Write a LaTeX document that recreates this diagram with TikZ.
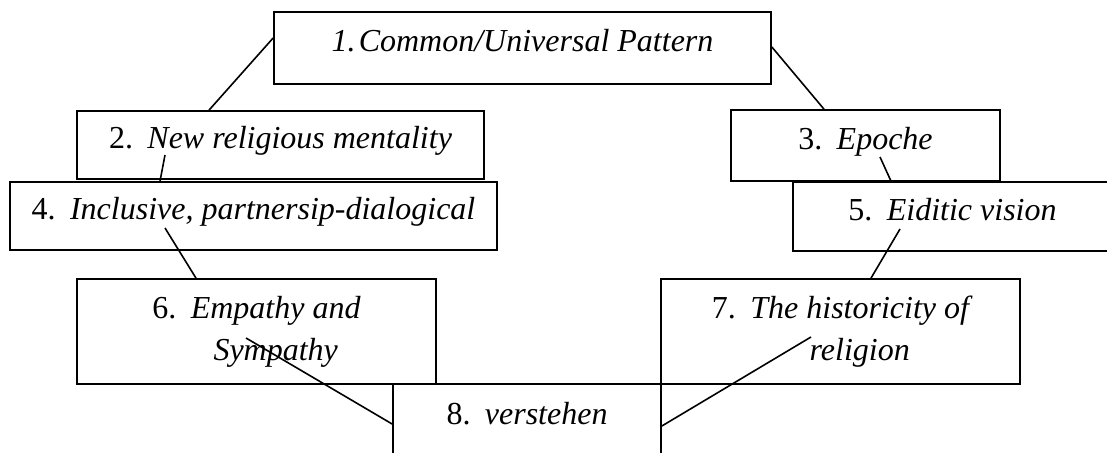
\documentclass[tikz,border=0pt]{standalone}
\usepackage{fontspec}
\setmainfont{Liberation Serif}
\newcommand{\itm}[2]{\textup{#1.}\hspace{0.45em}#2}

\begin{document}
\begin{tikzpicture}[x=1pt,y=-1pt]
        \tikzstyle{box}=[draw,line width=1.7pt,rectangle,inner sep=0pt,align=center,
          font=\fontsize{32}{42}\selectfont\itshape]
        \tikzstyle{one}=[text height=22pt,text depth=15pt]
        \tikzstyle{link}=[line width=1.6pt]

        \useasboundingbox (0,0) rectangle (1107,452);
        \clip (0,0) rectangle (1107,452);

        \draw (522.5,48) node[box,one,minimum width=497pt,minimum height=72pt] (b1) {1.\hspace{0.1em}Common/Universal Pattern};
        \draw (280.5,145) node[box,one,minimum width=407pt,minimum height=68pt] (b2) {\itm{2}{New religious mentality}};
        \draw (865.5,145.5) node[box,one,minimum width=269pt,minimum height=71pt] (b3) {\itm{3}{Epoche}};
        \draw (253.5,216) node[box,one,minimum width=487pt,minimum height=68pt] (b4) {\itm{4}{Inclusive, partnersip-dialogical}};
        \draw (952.5,216.5) node[box,one,minimum width=319pt,minimum height=69pt] (b5) {\itm{5}{Eiditic vision}};
        \draw (256.5,331.5) node[box,minimum width=359pt,minimum height=105pt] (b6) {\itm{6}{Empathy and}\\\hphantom{\itm{6}{}}Sympathy};
        \draw (840.5,331.5) node[box,minimum width=359pt,minimum height=105pt] (b7) {\itm{7}{The historicity of}\\\hphantom{\itm{7}{}}religion};
        \draw (527,421) node[box,one,minimum width=268pt,minimum height=74pt] (b8) {\itm{8}{verstehen}};

        \draw[link] ([yshift=10pt]b1.west) -- ([xshift=-71.5pt]b2.north);
        \draw[link] ([yshift=1pt]b1.east) -- ([xshift=-41.5pt]b3.north);
        \draw[link] ([xshift=-115.5pt,yshift=-10pt]b2.center) -- ([xshift=-93.5pt]b4.north);
        \draw[link] ([xshift=14.5pt,yshift=-11.5pt]b3.center) -- ([xshift=-61.5pt]b5.north);
        \draw[link] ([xshift=-88.5pt,yshift=-12pt]b4.center) -- ([xshift=-60.5pt]b6.north);
        \draw[link] ([xshift=-52.5pt,yshift=-12.5pt]b5.center) -- ([xshift=30.5pt]b7.north);
        \draw[link] ([xshift=-10.5pt,yshift=-6.5pt]b6.center) -- ([yshift=-3pt]b8.west);
        \draw[link] ([xshift=-29.5pt,yshift=-5.5pt]b7.center) -- ([yshift=-5pt]b8.east);

    \end{tikzpicture}
\end{document}
